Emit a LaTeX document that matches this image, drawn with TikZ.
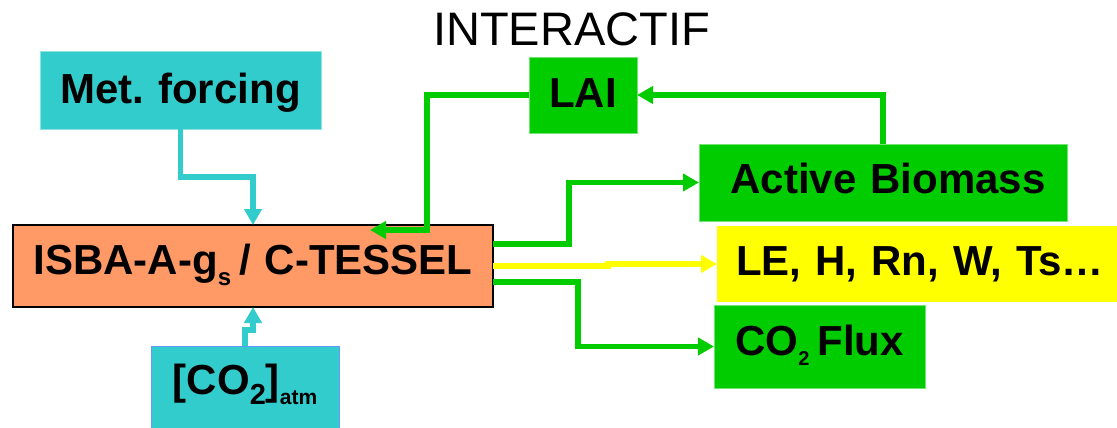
\documentclass[tikz,border=0pt]{standalone}
\usepackage{fontspec}
\setmainfont{Liberation Sans}
\usetikzlibrary{arrows.meta}
\definecolor{boxcyan}{HTML}{33CCCC}
\definecolor{boxgreen}{HTML}{00CC00}
\definecolor{boxyellow}{HTML}{FFFF00}
\definecolor{boxorange}{HTML}{FF9966}
\definecolor{edgeblue}{HTML}{6699FF}
% lowered, smaller text: #1 drop (pt), #2 size (pt), #3 text
\newcommand\lowered[3]{\raisebox{-#1pt}{\fontsize{#2pt}{#2pt}\selectfont #3}}
\frenchspacing

\begin{document}
\begin{tikzpicture}[x=1pt,y=-1pt,
  box/.style={inner sep=0pt, outer sep=0pt, anchor=north west, align=center,
    font=\fontsize{42pt}{42pt}\selectfont\bfseries},
  cyanbox/.style={box, fill=boxcyan, draw=boxcyan!55!white, line width=0.8pt},
  greenbox/.style={box, fill=boxgreen, draw=boxgreen!55!white, line width=0.8pt},
  flow/.style={line width=5.5pt, -{Triangle[length=16pt,width=17pt]}},
]
\useasboundingbox (0,0) rectangle (1117,428);
\fill[white] (0,0) rectangle (1117,428);

% title
\node[anchor=base west, inner sep=0pt, font=\fontsize{47pt}{47pt}\selectfont]
  (title) at (433,46) {INTERACTIF};

% inputs
\node[cyanbox, text width=281pt, text height=52pt, text depth=26pt]
  (met) at (40,51) {Met. forcing};
\node[box, fill=boxcyan, draw=edgeblue, line width=1pt,
  text width=188pt, text height=48pt, text depth=40pt]
  (co2) at (151,346) {[CO\lowered{10}{29}{2}]\lowered{10}{21}{atm}};

% land surface model
\node[box, fill=boxorange, draw=black, line width=1.3pt,
  text width=480pt, text height=49pt, text depth=33pt]
  (isba) at (13,225) {ISBA-A-g\lowered{11}{24}{s}\hspace{8pt}/ C-TESSEL};

% outputs
\node[greenbox, text width=108pt, text height=50pt, text depth=26pt]
  (lai) at (529,57) {LAI};
\node[greenbox, text width=368pt, text height=49pt, text depth=28pt]
  (ab) at (699,144) {\hspace*{10pt}Active Biomass};
\node[box, fill=boxyellow, text width=406pt, text height=49pt, text depth=27pt]
  (le) at (717,226) {LE, H, Rn, W, Ts…};
\node[greenbox, text width=211pt, text height=50pt, text depth=33pt]
  (flux) at (714,305) {CO\lowered{10}{20}{2}\hspace{8pt}Flux};

% connectors
\coordinate (laiin) at (370,230);
\draw[flow, boxcyan] (met.south) -- ++(0,48) -| (isba.north);
\draw[flow, boxcyan] (co2.north) -- ++(0,-16) -| (isba.south);
\draw[flow, boxgreen] (lai.west) -| (427,230) -- (laiin);
\draw[flow, boxgreen] (ab.north) |- (lai.east);
\draw[flow, boxgreen] ([yshift=22pt]isba.east) -- ++(76,0) |- (ab.west);
\draw[flow, boxyellow] (isba.east) -- ++(115,0) |- (le.west);
\draw[flow, boxgreen] ([yshift=-16pt]isba.east) -- ++(85,0) |- (flux.west);
\end{tikzpicture}
\end{document}
